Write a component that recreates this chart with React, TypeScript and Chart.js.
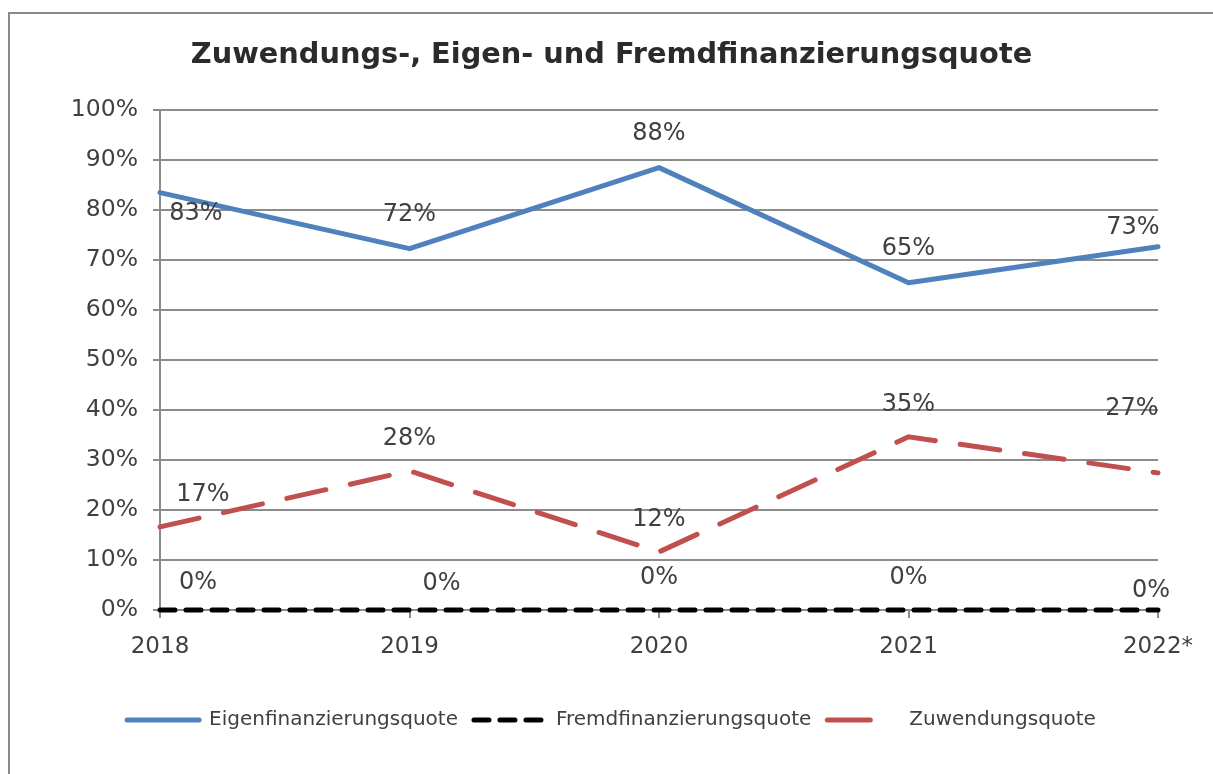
import React, { useEffect, useRef } from "react";
import { Chart, registerables } from "chart.js";

Chart.register(...registerables);

const years = ["2018", "2019", "2020", "2021", "2022*"];
const eigenfinanzierung = [83.4, 72.2, 88.4, 65.4, 72.6];
const fremdfinanzierung = [0, 0, 0, 0, 0];
const zuwendung = [16.6, 27.8, 11.6, 34.6, 27.4];
const yTicks = [0, 10, 20, 30, 40, 50, 60, 70, 80, 90, 100];

const TITLE = "Zuwendungs-, Eigen- und Fremdfinanzierungsquote";
const FONT = "'DejaVu Sans', sans-serif";
const TEXT = "#404040";
const GRID = "#8c8c8c";

// label offsets (dx, dy) in pixels relative to each point
const eigenLabelOffsets = [[36, 21], [0, -34], [0, -34], [0, -34], [-25, -19]];
const fremdLabelOffsets = [[38, -27], [32, -26], [0, -32], [0, -32], [-7, -19]];
const zuwLabelOffsets = [[43, -32], [0, -32], [0, -32], [0, -32], [-26, -64]];

const dataLabelPlugin = {
  id: "dataLabels",
  afterDatasetsDraw(chart: any) {
    const ctx = chart.ctx;
    ctx.save();
    ctx.font = `24px ${FONT}`;
    ctx.fillStyle = TEXT;
    ctx.textAlign = "center";
    ctx.textBaseline = "middle";
    chart.data.datasets.forEach((ds: any, i: number) => {
      const meta = chart.getDatasetMeta(i);
      const offs = ds.labelOffsets || [];
      meta.data.forEach((pt: any, j: number) => {
        const v = ds.data[j];
        const o = offs[j] || [0, -30];
        ctx.fillText(`${Math.round(v)}%`, pt.x + o[0], pt.y + o[1]);
      });
    });
    ctx.restore();
  },
};

export default function App() {
  const ref = useRef<HTMLCanvasElement | null>(null);
  useEffect(() => {
    if (!ref.current) return;
    const chart = new Chart(ref.current, {
      type: "line",
      data: {
        labels: years,
        datasets: [
          {
            label: "Eigenfinanzierungsquote",
            data: eigenfinanzierung,
            borderColor: "#4f81bd",
            backgroundColor: "#4f81bd",
            borderWidth: 5,
            pointRadius: 0,
            borderCapStyle: "round",
            borderJoinStyle: "round",
            tension: 0,
            clip: false,
            labelOffsets: eigenLabelOffsets,
            legendDash: [],
          } as any,
          {
            label: "Fremdfinanzierungsquote",
            data: fremdfinanzierung,
            borderColor: "#000000",
            backgroundColor: "#000000",
            borderWidth: 5,
            borderDash: [15, 11],
            borderCapStyle: "round",
            pointRadius: 0,
            tension: 0,
            clip: false,
            labelOffsets: fremdLabelOffsets,
            legendDash: [15, 11],
          } as any,
          {
            label: "Zuwendungsquote",
            data: zuwendung,
            borderColor: "#c0504d",
            backgroundColor: "#c0504d",
            borderWidth: 5,
            borderDash: [40, 25],
            borderCapStyle: "round",
            pointRadius: 0,
            tension: 0,
            clip: false,
            labelOffsets: zuwLabelOffsets,
            legendDash: [43, 40],
          } as any,
        ],
      },
      options: {
        animation: false,
        responsive: false,
        layout: { padding: { left: 0, right: 0, top: 0, bottom: 34 } },
        plugins: {
          title: {
            display: true,
            text: TITLE,
            color: "#2b2b2b",
            font: { family: FONT, size: 28.8, weight: "bold" },
            padding: { top: 24, bottom: 37 },
          },
          legend: {
            position: "bottom",
            labels: {
              color: TEXT,
              font: { family: FONT, size: 20 },
              usePointStyle: true,
              pointStyle: "line",
              pointStyleWidth: 72,
              boxHeight: 20,
              padding: 16,
              generateLabels(chart: any) {
                const items = Chart.defaults.plugins.legend.labels.generateLabels(chart);
                items.forEach((it: any) => {
                  const ds: any = chart.data.datasets[it.datasetIndex];
                  it.lineDash = ds.legendDash;
                  it.lineCap = "round";
                  it.lineWidth = 5;
                  it.strokeStyle = ds.borderColor;
                  it.fontColor = TEXT;
                });
                return items;
              },
            },
          },
          tooltip: { enabled: false },
        },
        scales: {
          x: {
            offset: false,
            afterFit(scale: any) {
              scale.height = 84;
            },
            grid: {
              drawOnChartArea: false,
              drawTicks: true,
              tickLength: 8,
              color: GRID,
              lineWidth: 2,
            },
            border: { display: true, color: GRID, width: 2 },
            ticks: {
              color: TEXT,
              font: { family: FONT, size: 23 },
              padding: 15,
              maxRotation: 0,
              autoSkip: false,
            },
          },
          y: {
            min: 0,
            max: 100,
            afterFit(scale: any) {
              scale.width = 150;
            },
            afterBuildTicks(scale: any) {
              scale.ticks = yTicks.map((v) => ({ value: v }));
            },
            grid: {
              color: GRID,
              lineWidth: 2,
              tickLength: 7,
            },
            border: { display: true, color: GRID, width: 2 },
            ticks: {
              color: TEXT,
              font: { family: FONT, size: 23.5 },
              padding: 15,
              callback: (v: any) => `${v}%`,
            },
          },
          yRight: {
            position: "right",
            min: 0,
            max: 100,
            afterFit(scale: any) {
              scale.width = 55;
            },
            grid: { display: false },
            border: { display: false },
            ticks: { display: false },
          },
        },
      },
      plugins: [dataLabelPlugin],
    });
    return () => chart.destroy();
  }, []);

  return (
    <div
      style={{
        position: "fixed",
        left: 8,
        top: 12,
        width: 1230,
        height: 790,
        border: "2px solid #8a8a8a",
        background: "#ffffff",
      }}
    >
      <canvas ref={ref} width={1203} height={760} style={{ display: "block" }} />
    </div>
  );
}
